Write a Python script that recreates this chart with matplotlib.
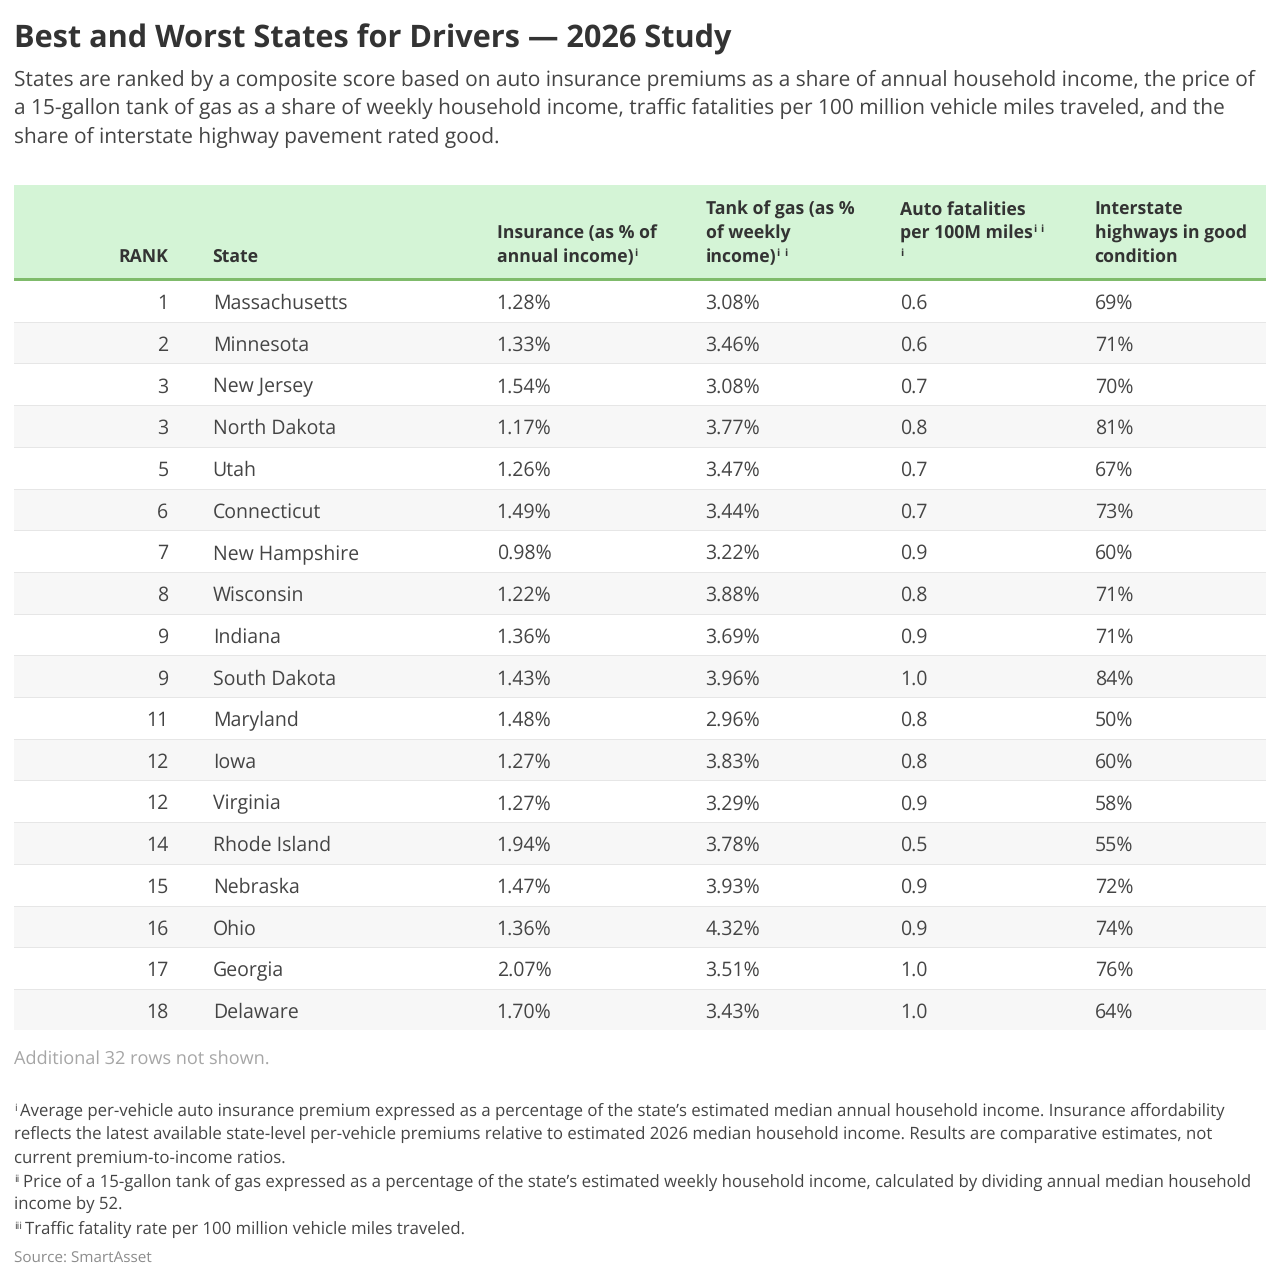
import matplotlib
matplotlib.use("Agg")
import matplotlib.pyplot as plt
from matplotlib.patches import Rectangle

plt.rcParams['font.family'] = ['Open Sans', 'DejaVu Sans']
plt.rcParams['text.hinting'] = 'no_hinting'
plt.rcParams['text.hinting_factor'] = 8

title = "Best and Worst States for Drivers — 2026 Study"
subtitle = ["States are ranked by a composite score based on auto insurance premiums as a share of annual household income, the price of",
            "a 15-gallon tank of gas as a share of weekly household income, traffic fatalities per 100 million vehicle miles traveled, and the",
            "share of interstate highway pavement rated good."]
ranks = [1, 2, 3, 3, 5, 6, 7, 8, 9, 9, 11, 12, 12, 14, 15, 16, 17, 18]
states = ["Massachusetts", "Minnesota", "New Jersey", "North Dakota", "Utah", "Connecticut", "New Hampshire",
          "Wisconsin", "Indiana", "South Dakota", "Maryland", "Iowa", "Virginia", "Rhode Island", "Nebraska",
          "Ohio", "Georgia", "Delaware"]
insurance = ["1.28%", "1.33%", "1.54%", "1.17%", "1.26%", "1.49%", "0.98%", "1.22%", "1.36%", "1.43%", "1.48%",
             "1.27%", "1.27%", "1.94%", "1.47%", "1.36%", "2.07%", "1.70%"]
gas = ["3.08%", "3.46%", "3.08%", "3.77%", "3.47%", "3.44%", "3.22%", "3.88%", "3.69%", "3.96%", "2.96%",
       "3.83%", "3.29%", "3.78%", "3.93%", "4.32%", "3.51%", "3.43%"]
fatal = ["0.6", "0.6", "0.7", "0.8", "0.7", "0.7", "0.9", "0.8", "0.9", "1.0", "0.8", "0.8", "0.9", "0.5", "0.9",
         "0.9", "1.0", "1.0"]
highways = ["69%", "71%", "70%", "81%", "67%", "73%", "60%", "71%", "71%", "84%", "50%", "60%", "58%", "55%",
            "72%", "74%", "76%", "64%"]
more_rows = "Additional 32 rows not shown."
notes = [("i", "Average per-vehicle auto insurance premium expressed as a percentage of the state’s estimated median annual household income. Insurance affordability"),
         ("", "reflects the latest available state-level per-vehicle premiums relative to estimated 2026 median household income. Results are comparative estimates, not"),
         ("", "current premium-to-income ratios."),
         ("ii", "Price of a 15-gallon tank of gas expressed as a percentage of the state’s estimated weekly household income, calculated by dividing annual median household"),
         ("", "income by 52."),
         ("iii", "Traffic fatality rate per 100 million vehicle miles traveled.")]
source = "Source: SmartAsset"

W, H = 1280, 1281
fig = plt.figure(figsize=(W / 100, H / 100), dpi=100, facecolor="white")
ax = fig.add_axes([0, 0, 1, 1])
ax.set_xlim(0, W)
ax.set_ylim(H, 0)
ax.axis("off")

PX = 0.72  # pt per px at dpi 100
DARK = "#333333"
L, R = 14, 1266


def txt(x, y, s, px, color=DARK, weight="normal", ha="left"):
    return ax.text(x, y, s, fontsize=px * PX, color=color, fontweight=weight, ha=ha, va="baseline")


def after(t, gap=0):
    bb = t.get_window_extent(fig.canvas.get_renderer())
    return bb.x1 + gap


txt(L, 47.5, title, 30.6, weight="bold")
for i, line in enumerate(subtitle):
    txt(L, 85.6 + i * 28.8, line, 20.9, color="#444444")

# header
ax.add_patch(Rectangle((L, 185), R - L, 93, fc="#d4f4d6", ec="none"))
ax.add_patch(Rectangle((L, 278), R - L, 3, fc="#7fbb6b", ec="none"))

HPX = 17.6
H1, H2, H3 = 214.6, 238.2, 261.7
COL = [168.5, 212.6, 496.7, 705.5, 900, 1094.7]
txt(COL[0], H3, "RANK", HPX, weight="bold", ha="right")
txt(COL[1], H3, "State", HPX, weight="bold")


def sup(x, y, s):
    # superscript markers are separate small glyphs, spaced like the reference
    for j, ch in enumerate(s):
        txt(x + j * 7.4, y - 6, ch, 10.5, weight="bold")


txt(COL[2], H2, "Insurance (as % of", HPX, weight="bold")
t = txt(COL[2], H3, "annual income)", HPX, weight="bold")
sup(after(t, 0.5), H3, "i")

txt(COL[3], H1, "Tank of gas (as %", HPX, weight="bold")
txt(COL[3], H2, "of weekly", HPX, weight="bold")
t = txt(COL[3], H3, "income)", HPX, weight="bold")
sup(after(t, 0.5), H3, "ii")

txt(COL[4], H1, "Auto fatalities", HPX, weight="bold")
t = txt(COL[4], H2, "per 100M miles", HPX, weight="bold")
sup(after(t, 0.5), H2, "ii")
sup(COL[4], H3, "i")

txt(COL[5], H1, "Interstate", HPX, weight="bold")
txt(COL[5], H2, "highways in good", HPX, weight="bold")
txt(COL[5], H3, "condition", HPX, weight="bold")

# rows
RH = 41.7
TOP = 281
for i, (rk, st, a, b, c, d) in enumerate(zip(ranks, states, insurance, gas, fatal, highways)):
    y0 = TOP + i * RH
    last = i == len(ranks) - 1
    if i % 2 == 1:
        ax.add_patch(Rectangle((L, y0), R - L, RH - (1.6 if last else 0), fc="#f7f7f7", ec="none"))
    if not last:
        ax.add_patch(Rectangle((L, y0 + RH - 1), R - L, 1, fc="#e6e6e6", ec="none"))
    base = y0 + 28
    txt(COL[0], base, str(rk), 19.55, color="#444444", ha="right")
    for x, s in zip(COL[1:], (st, a, b, c, d)):
        txt(x, base, s, 19.55, color="#444444")

txt(L, 1064, more_rows, 18.1, color="#a6a6a6")

NPX = 16.75
ys = [1116, 1139, 1163, 1187, 1210, 1234]
for (mark, line), y in zip(notes, ys):
    x = L
    if mark:
        t = txt(x, y - 5, mark, 10.5, color="#444444")
        x = after(t, 3.2)
    txt(x, y, line, NPX, color="#444444")

txt(L, 1263, source, 15.2, color="#8c8c8c")

fig.savefig("out.png", dpi=100)
